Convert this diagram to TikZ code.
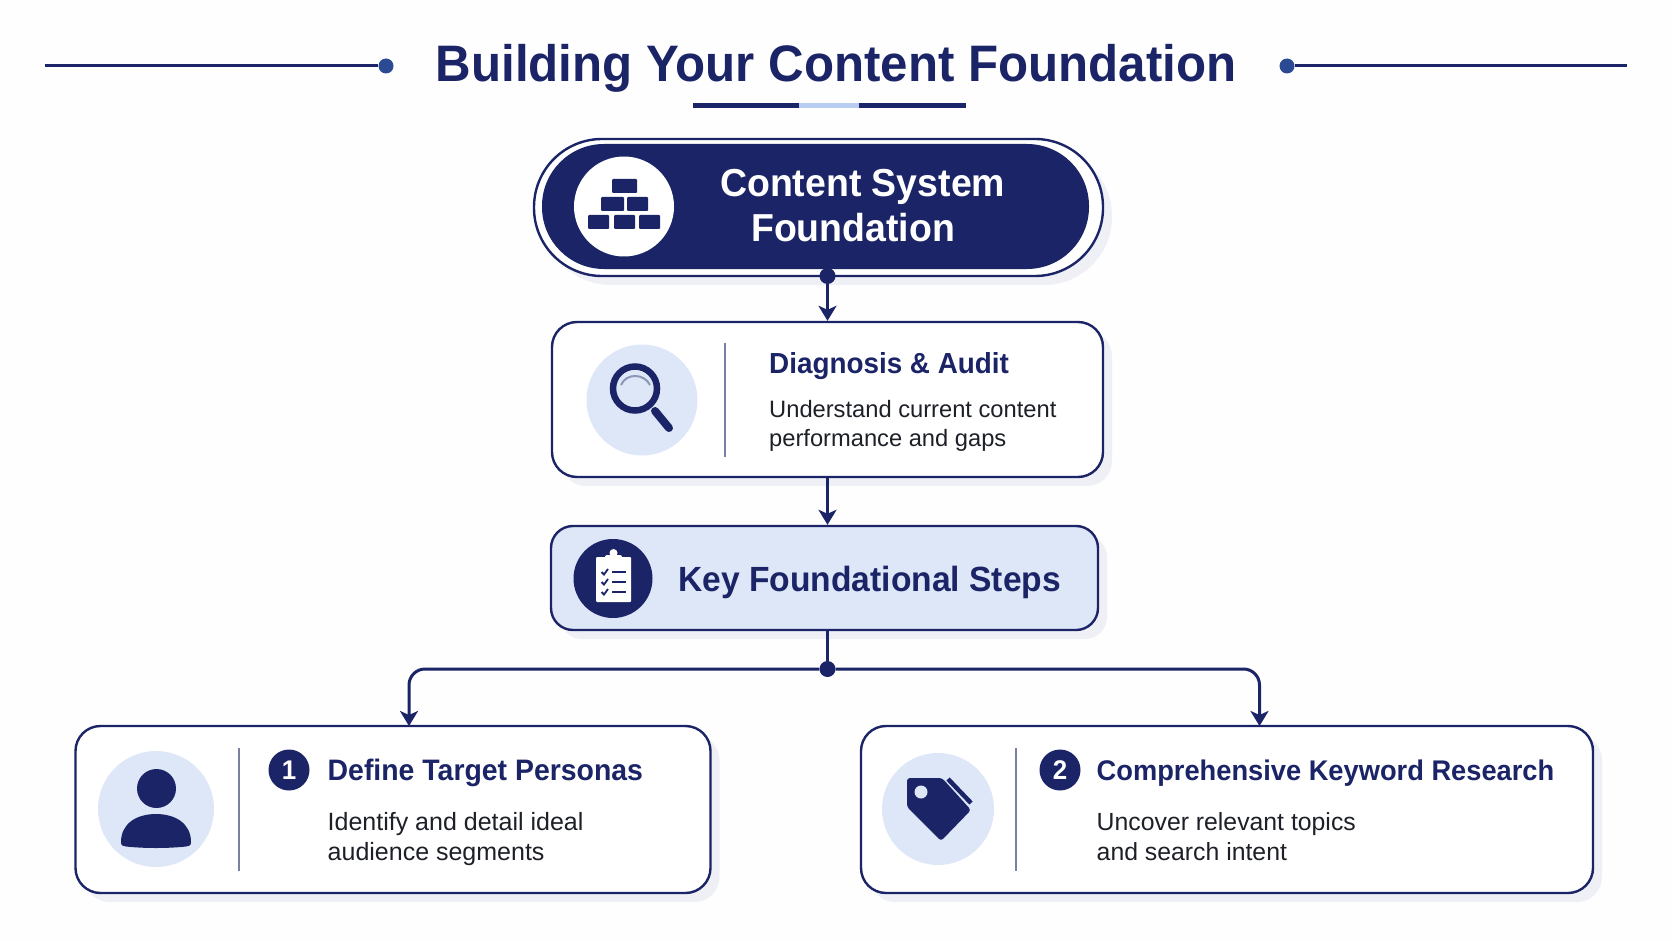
\documentclass[tikz,border=0pt]{standalone}
\usepackage{fontspec}
\usepackage{tikz}
\usetikzlibrary{arrows.meta,shadows}
\setmainfont[BoldFeatures={FakeStretch=0.96}]{Liberation Sans}
\newlength{\cardradius}
\newlength{\pillradius}
\newlength{\linkwidth}
\setlength{\cardradius}{25pt}
\setlength{\pillradius}{68pt}
\setlength{\linkwidth}{3pt}
\definecolor{navycolor}{RGB}{27,36,102}
\definecolor{dotcolor}{RGB}{44,74,148}
\definecolor{palecolor}{RGB}{222,231,248}
\definecolor{stripecolor}{RGB}{185,205,240}
\definecolor{shadowcolor}{RGB}{238,240,246}
\definecolor{bodycolor}{RGB}{30,32,40}
\definecolor{rulecolor}{RGB}{120,128,165}
\definecolor{glintcolor}{RGB}{140,151,184}
\definecolor{pagecolor}{RGB}{254,254,254}
\tikzstyle{every node} = [inner sep=0]
\tikzstyle{cardbox} = [draw=navycolor, line width=2.4pt, fill=white, rounded corners=\cardradius, general shadow={fill=shadowcolor, shadow xshift=9pt, shadow yshift=-9pt}]
\tikzstyle{iconcircle} = [circle, fill=palecolor]
\tikzstyle{numcircle} = [circle, fill=navycolor, text=white, minimum size=41pt, font=\fontsize{27}{27}\selectfont\bfseries]
\tikzstyle{titletext} = [anchor=base west, text=navycolor, font=\fontsize{29}{29}\selectfont\bfseries]
\tikzstyle{desctext} = [anchor=base west, align=left, text=bodycolor]
\tikzstyle{joint} = [circle, fill=navycolor, minimum size=16pt]
\tikzstyle{flow} = [draw=navycolor, line width=\linkwidth, -{Stealth[length=15pt,width=18pt,inset=4pt]}]
\tikzstyle{rule} = [draw=navycolor, line width=3pt]
\tikzstyle{divider} = [draw=rulecolor, line width=1.6pt]
\newcommand{\brick}[3]{
	\fill[navycolor, rounded corners=1pt] (#1,#2) rectangle ++(#3,14);
}
\newcommand{\checkrow}[1]{
	\draw[navycolor, line width=1.8pt] (601.5,#1) -- (604,#1+2.5) -- (608,#1-3);
	\draw[navycolor, line width=1.8pt] (612,#1) -- (626,#1);
}
\begin{document}
\begin{tikzpicture}[x=1pt, y=-1pt]
		
		\useasboundingbox (0,0) rectangle (1672,941);
		\fill[pagecolor] (0,0) rectangle (1672,941);
		
		% heading
		\node[anchor=base, text=navycolor, font=\fontsize{51.3}{51.3}\selectfont\bfseries] (heading) at (836,82) {Building Your Content Foundation};
		\node[circle, fill=dotcolor, minimum size=15pt] (leftdot) at (386,66) {};
		\node[circle, fill=dotcolor, minimum size=15pt] (rightdot) at (1287,66) {};
		\coordinate (leftend) at (45,66);
		\coordinate (rightend) at (1627,66);
		\draw[rule] (leftend) -- (leftdot);
		\draw[rule] (rightdot) -- (rightend);
		\fill[navycolor] (693,103.5) rectangle (799,108.5);
		\fill[stripecolor] (799,103.5) rectangle (859,108.5);
		\fill[navycolor] (859,103.5) rectangle (966,108.5);
		
		% foundation pill
		\node[draw=navycolor, line width=2.4pt, fill=white, rounded corners=\pillradius, minimum width=569pt, minimum height=137pt, general shadow={fill=shadowcolor, shadow xshift=9pt, shadow yshift=-9pt}] (rootnode) at (818.5,207.5) {};
		\fill[navycolor, rounded corners=62pt] (542,144) rectangle (1089,269);
		\node[circle, fill=white, minimum size=100pt] (rooticon) at (624,206.5) {};
		\brick{612}{179}{25}
		\brick{601}{197}{23}
		\brick{627}{197}{21}
		\brick{588}{215}{21}
		\brick{614}{215}{21}
		\brick{639}{215}{21}
		\node[anchor=west, align=left, text=white, font=\fontsize{39}{45}\selectfont\bfseries] (roottext) at (720,206) {Content System\\\hspace*{31pt}Foundation};
		\node[joint] (rootdot) at (827.5,276) {};
		
		% audit card
		\node[cardbox, minimum width=551pt, minimum height=155pt] (auditnode) at (827.5,399.5) {};
		\node[iconcircle, minimum size=111pt] (auditicon) at (642,400) {};
		\draw[navycolor, line width=6.5pt] (635,388.5) circle (22);
		\draw[navycolor, line width=8pt, line cap=round] (655,411) -- (669,428);
		\draw[glintcolor, line width=2pt] (621,385) .. controls (626,373) and (644,373) .. (650,385);
		\coordinate (audittop) at (725,343);
		\coordinate (auditbot) at (725,457);
		\draw[divider] (audittop) -- (auditbot);
		\node[titletext] (audittitle) at (769,373) {Diagnosis \& Audit};
		\node[desctext, font=\fontsize{23.7}{29.5}\selectfont] (auditdesc) at (769,446.5) {Understand current content\\performance and gaps};
		
		% steps card
		\node[cardbox, fill=palecolor, rounded corners=22pt, minimum width=547pt, minimum height=104pt] (stepsnode) at (824.5,578) {};
		\node[circle, fill=navycolor, minimum size=79pt] (stepsicon) at (613,578.5) {};
		\fill[white, rounded corners=1pt] (596,557) rectangle (631,602);
		\fill[white, rounded corners=2pt] (605,555) rectangle (622,563);
		\fill[white] (613.5,553) circle (4);
		\checkrow{572}
		\checkrow{582}
		\checkrow{592}
		\node[anchor=base west, text=navycolor, font=\fontsize{35}{35}\selectfont\bfseries] (stepstext) at (678,591) {Key Foundational Steps};
		
		% persona card
		\node[cardbox, minimum width=635pt, minimum height=167pt] (personanode) at (393,809.5) {};
		\node[iconcircle, minimum size=116pt] (personaicon) at (156,809) {};
		\fill[navycolor] (156.5,788.5) circle (19.5);
		\fill[navycolor] (121,842) .. controls (121,824) and (136,814) .. (156,814) .. controls (176,814) and (191,824) .. (191,842) .. controls (191,846) and (189,846) .. (186,846.5) .. controls (168,848.5) and (144,848.5) .. (126,846.5) .. controls (123,846) and (121,846) .. (121,842) -- cycle;
		\coordinate (personatop) at (239,748);
		\coordinate (personabot) at (239,871);
		\draw[divider] (personatop) -- (personabot);
		\node[numcircle] (personanum) at (289,770) {1};
		\node[titletext, font=\fontsize{29.6}{29.6}\selectfont\bfseries] (personatitle) at (327.5,780) {Define Target Personas};
		\node[desctext, font=\fontsize{25}{30}\selectfont] (personadesc) at (327.5,860.5) {Identify and detail ideal\\audience segments};
		
		% keyword card
		\node[cardbox, minimum width=732pt, minimum height=167pt] (keywordnode) at (1227,809.5) {};
		\node[iconcircle, minimum size=112pt] (keywordicon) at (938,809) {};
		\fill[navycolor, rounded corners=3pt] (907,778) -- (942,778) -- (971,810) -- (941,841) -- (907,807) -- cycle;
		\fill[palecolor] (921,792) circle (6.5);
		\draw[navycolor, line width=4.5pt] (948,779) -- (971,803);
		\coordinate (keywordtop) at (1016,748);
		\coordinate (keywordbot) at (1016,871);
		\draw[divider] (keywordtop) -- (keywordbot);
		\node[numcircle] (keywordnum) at (1060,770) {2};
		\node[titletext, font=\fontsize{28.4}{28.4}\selectfont\bfseries] (keywordtitle) at (1096.5,780) {Comprehensive Keyword Research};
		\node[desctext, font=\fontsize{24.8}{30}\selectfont] (keyworddesc) at (1096.5,860.5) {Uncover relevant topics\\and search intent};
		
		% links between the cards
		\node[joint] (branchdot) at (827.5,669) {};
		\coordinate (personain) at (409,726);
		\coordinate (keywordin) at (1259.5,726);
		\draw[flow] (rootdot) -- (auditnode.north);
		\draw[flow] (auditnode.south) -- (auditnode.south |- stepsnode.north);
		\draw[rule] (stepsnode.south -| branchdot) -- (branchdot);
		\draw[flow, rounded corners=16pt] (branchdot) -| (personain);
		\draw[flow, rounded corners=16pt] (branchdot) -| (keywordin);
		
	\end{tikzpicture}
\end{document}
